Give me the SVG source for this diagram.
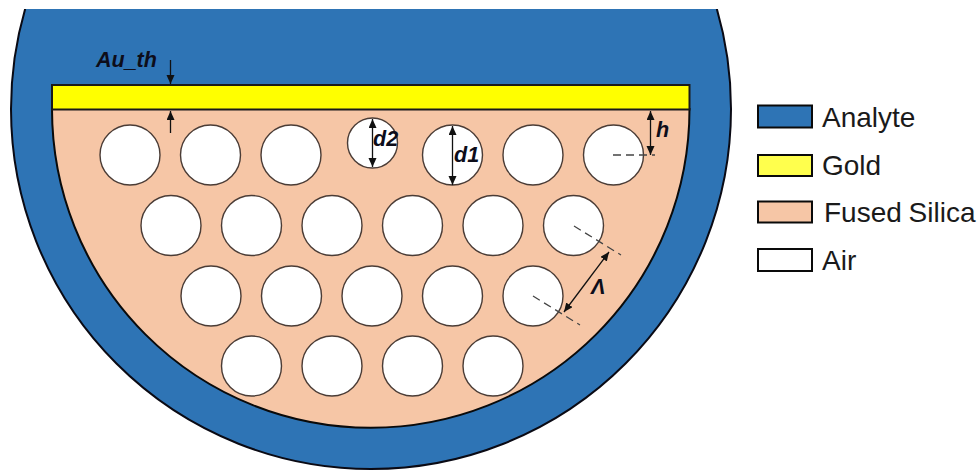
<svg xmlns="http://www.w3.org/2000/svg" width="980" height="470" viewBox="0 0 980 470">
<style>
.hole{fill:#fff;stroke:#4a3c36;stroke-width:1.4}
.dim{stroke:#111;stroke-width:1.3;fill:none}
.dash{stroke:#444;stroke-width:1.3;stroke-dasharray:8 5;fill:none}
.lab{font-family:"Liberation Sans",Arial,sans-serif;font-weight:bold;font-style:italic;font-size:21.500px;fill:#0d0d1a}
.leg{font-family:"Liberation Sans",Arial,sans-serif;font-size:28px;fill:#1a1a1a}
.sw{stroke:#0a0a0a;stroke-width:2}
</style>
<defs>
<marker id="a" markerWidth="10" markerHeight="10" refX="9" refY="4" orient="auto-start-reverse" markerUnits="userSpaceOnUse"><path d="M0,0 L9,4 L0,8 Z" fill="#111"/></marker>
<clipPath id="top"><rect x="0" y="9" width="980" height="461"/></clipPath>
</defs>
<g id="analyte"><circle cx="371" cy="109" r="360" fill="#2e74b5" stroke="#0a0a14" stroke-width="2" clip-path="url(#top)"/></g>
<g id="silica"><path d="M52,109 H689.500 A318.750,318.750 0 0 1 52,109 Z" fill="#f6c6a6" stroke="#0a0a0a" stroke-width="2"/></g>
<g id="gold"><rect x="52" y="85" width="637.500" height="24.500" fill="#ffff00" stroke="#1a1a1a" stroke-width="2"/></g>
<g id="holes">
<circle class="hole" cx="130" cy="155" r="30"/><circle class="hole" cx="210.500" cy="155" r="30"/><circle class="hole" cx="291" cy="155" r="30"/><circle class="hole" cx="372.500" cy="143" r="25"/><circle class="hole" cx="452.500" cy="155" r="30"/><circle class="hole" cx="533" cy="155" r="30"/><circle class="hole" cx="613.500" cy="155" r="30"/>
<circle class="hole" cx="171" cy="225.500" r="30"/><circle class="hole" cx="251.500" cy="225.500" r="30"/><circle class="hole" cx="332" cy="225.500" r="30"/><circle class="hole" cx="412.500" cy="225.500" r="30"/><circle class="hole" cx="493" cy="225.500" r="30"/><circle class="hole" cx="573.500" cy="225.500" r="30"/>
<circle class="hole" cx="211" cy="296" r="30"/><circle class="hole" cx="291.500" cy="296" r="30"/><circle class="hole" cx="372" cy="296" r="30"/><circle class="hole" cx="452.500" cy="296" r="30"/><circle class="hole" cx="533" cy="296" r="30"/>
<circle class="hole" cx="251.500" cy="366" r="30"/><circle class="hole" cx="332" cy="366" r="30"/><circle class="hole" cx="412.500" cy="366" r="30"/><circle class="hole" cx="493" cy="366" r="30"/>
</g>
<g id="connectors">
<path class="dim" d="M170.500,60 V84" marker-end="url(#a)"/>
<path class="dim" d="M170.500,133 V111" marker-end="url(#a)"/>
<path class="dim" d="M372.500,119 V167" marker-start="url(#a)" marker-end="url(#a)"/>
<path class="dim" d="M452.500,126 V185" marker-start="url(#a)" marker-end="url(#a)"/>
<path class="dim" d="M650.500,111 V155" marker-start="url(#a)" marker-end="url(#a)"/>
<path class="dash" d="M613,155 H655"/>
<path class="dash" d="M574,226 L621,255"/>
<path class="dash" d="M533,296 L580,325"/>
<path class="dim" d="M609,252 L564,312" marker-start="url(#a)" marker-end="url(#a)"/>
</g>
<g id="labels">
<text class="lab" x="96" y="67">Au_th</text>
<text class="lab" x="373" y="146">d2</text>
<text class="lab" x="454" y="162">d1</text>
<text class="lab" x="656" y="137">h</text>
<text class="lab" x="591" y="294">Λ</text>
</g>
<g id="legend-analyte"><rect class="sw" x="758" y="105.500" width="54" height="22" fill="#2e74b5"/><text class="leg" x="822" y="127">Analyte</text></g>
<g id="legend-gold"><rect class="sw" x="758" y="155" width="54" height="21" fill="#ffff4d"/><text class="leg" x="822" y="175">Gold</text></g>
<g id="legend-silica"><rect class="sw" x="758" y="201.500" width="54" height="21" fill="#f6c6a6"/><text class="leg" x="824" y="222" word-spacing="-1">Fused Silica</text></g>
<g id="legend-air"><rect class="sw" x="758" y="249" width="54" height="22" fill="#fff"/><text class="leg" x="822" y="270">Air</text></g>
</svg>
